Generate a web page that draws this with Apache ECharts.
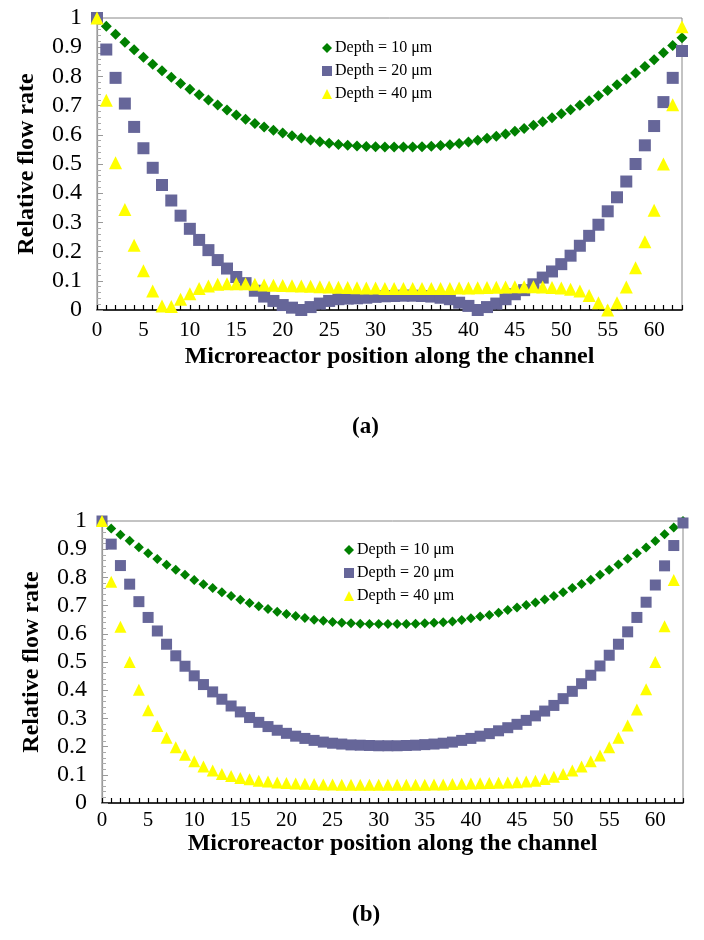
<!DOCTYPE html>
<html>
<head>
<meta charset="utf-8">
<script src="https://cdn.jsdelivr.net/npm/echarts@6/dist/echarts.min.js"></script>
<style>
html,body{margin:0;padding:0;background:#fff;}
#c{width:704px;height:940px;}
</style>
</head>
<body>
<div id="c"></div>
<script>
// Microreactor positions along the channel
var positions = [0,1,2,3,4,5,6,7,8,9,10,11,12,13,14,15,16,17,18,19,20,21,22,23,24,25,26,27,28,29,30,31,32,33,34,35,36,37,38,39,40,41,42,43,44,45,46,47,48,49,50,51,52,53,54,55,56,57,58,59,60,61,62,63];

// Chart (a)
var depth10A = [1.000,0.972,0.944,0.917,0.891,0.866,0.842,0.819,0.797,0.776,
  0.756,0.737,0.719,0.702,0.685,0.668,0.653,0.639,0.627,0.616,
  0.606,0.597,0.589,0.582,0.576,0.571,0.567,0.564,0.562,0.560,
  0.559,0.558,0.558,0.558,0.558,0.559,0.561,0.563,0.566,0.570,
  0.575,0.581,0.588,0.595,0.603,0.612,0.622,0.633,0.645,0.658,
  0.672,0.686,0.701,0.717,0.734,0.752,0.771,0.791,0.812,0.834,
  0.857,0.881,0.906,0.932];
var depth20A = [1.000,0.892,0.795,0.707,0.627,0.554,0.487,0.428,0.375,0.323,
  0.278,0.240,0.205,0.171,0.142,0.113,0.092,0.066,0.046,0.031,
  0.017,0.008,0.000,0.010,0.022,0.031,0.037,0.039,0.040,0.042,
  0.045,0.047,0.048,0.049,0.049,0.048,0.046,0.042,0.037,0.025,
  0.014,0.000,0.010,0.022,0.037,0.054,0.068,0.088,0.111,0.132,
  0.157,0.186,0.220,0.254,0.292,0.338,0.386,0.440,0.500,0.564,
  0.630,0.712,0.795,0.887];
var depth40A = [1.000,0.718,0.504,0.344,0.222,0.134,0.065,0.014,0.012,0.037,
  0.056,0.074,0.082,0.088,0.090,0.090,0.090,0.088,0.086,0.085,
  0.084,0.083,0.082,0.081,0.080,0.079,0.078,0.077,0.076,0.075,
  0.075,0.074,0.074,0.074,0.074,0.074,0.074,0.074,0.074,0.075,
  0.075,0.076,0.077,0.078,0.079,0.080,0.080,0.080,0.079,0.077,
  0.075,0.071,0.065,0.050,0.025,0.000,0.025,0.079,0.145,0.234,
  0.342,0.500,0.703,0.970];

// Chart (b)
var depth10B = [1.000,0.973,0.951,0.930,0.907,0.886,0.865,0.845,0.827,0.809,
  0.791,0.776,0.762,0.747,0.734,0.721,0.709,0.698,0.688,0.678,
  0.670,0.663,0.656,0.650,0.646,0.642,0.639,0.637,0.636,0.635,
  0.635,0.635,0.635,0.635,0.636,0.637,0.639,0.641,0.644,0.649,
  0.655,0.661,0.667,0.675,0.684,0.693,0.702,0.711,0.722,0.734,
  0.747,0.762,0.777,0.792,0.809,0.827,0.846,0.866,0.886,0.906,
  0.929,0.953,0.977,1.000];
var depth20B = [1.000,0.918,0.842,0.776,0.714,0.658,0.610,0.563,0.522,0.485,
  0.451,0.420,0.394,0.368,0.344,0.323,0.303,0.286,0.271,0.258,
  0.247,0.237,0.229,0.222,0.216,0.212,0.209,0.206,0.205,0.204,
  0.203,0.203,0.203,0.204,0.205,0.207,0.209,0.212,0.216,0.222,
  0.229,0.237,0.246,0.256,0.267,0.279,0.293,0.309,0.326,0.346,
  0.370,0.396,0.423,0.453,0.486,0.524,0.563,0.607,0.658,0.712,
  0.773,0.841,0.913,0.993];
var depth40B = [1.000,0.785,0.625,0.500,0.402,0.329,0.273,0.231,0.198,0.171,
  0.148,0.129,0.115,0.103,0.096,0.089,0.084,0.079,0.076,0.073,
  0.071,0.069,0.068,0.067,0.066,0.066,0.065,0.065,0.065,0.065,
  0.065,0.065,0.065,0.065,0.065,0.065,0.066,0.066,0.067,0.068,
  0.069,0.070,0.071,0.072,0.073,0.074,0.076,0.079,0.085,0.093,
  0.103,0.115,0.129,0.148,0.168,0.198,0.231,0.275,0.332,0.403,
  0.500,0.627,0.791,null];

var seriesNames = ['Depth = 10 \u03bcm', 'Depth = 20 \u03bcm', 'Depth = 40 \u03bcm'];
var xTickLabels = ['0','5','10','15','20','25','30','35','40','45','50','55','60'];
var yTickLabels = ['0','0.1','0.2','0.3','0.4','0.5','0.6','0.7','0.8','0.9','1'];
var panelLabels = ['(a)', '(b)'];
var xTitle = 'Microreactor position along the channel';
var yTitle = 'Relative flow rate';

function pairs(vals){
  return positions.map(function(p, i){ return vals[i] == null ? [p, '-'] : [p, vals[i]]; });
}

var FONT = '"Liberation Serif", "Times New Roman", serif';

function xAxis(gi, labelMargin, titleGap){
  return {
    gridIndex: gi, type: 'value', min: 0, max: 63, interval: 1,
    axisLine: {show: true, onZero: false, lineStyle: {color: '#000', width: 1.5}},
    axisTick: {show: true, inside: true, length: 5, lineStyle: {color: '#000', width: 1.2}},
    splitLine: {show: false},
    axisLabel: {
      color: '#000', fontFamily: FONT, fontSize: 21, margin: labelMargin,
      formatter: function(v){ var s = String(v); return xTickLabels.indexOf(s) >= 0 ? s : ''; }
    },
    name: xTitle, nameLocation: 'middle', nameGap: titleGap,
    nameTextStyle: {color: '#000', fontFamily: FONT, fontSize: 24, fontWeight: 'bold'}
  };
}
function yAxis(gi){
  return {
    gridIndex: gi, type: 'value', min: 0, max: 1, interval: 0.1,
    axisLine: {show: true, onZero: false, lineStyle: {color: '#999', width: 1.2}},
    axisTick: {show: true, inside: true, length: 6, lineStyle: {color: '#999'}},
    minorTick: {show: true, splitNumber: 5, length: 4, lineStyle: {color: '#aaa'}},
    splitLine: {show: false},
    axisLabel: {
      color: '#000', fontFamily: FONT, fontSize: 24, margin: 15,
      formatter: function(v){ var s = String(Math.round(v * 10) / 10); return yTickLabels.indexOf(s) >= 0 ? s : ''; }
    },
    name: yTitle, nameLocation: 'middle', nameGap: 58, nameRotate: 90,
    nameTextStyle: {color: '#000', fontFamily: FONT, fontSize: 24, fontWeight: 'bold'}
  };
}

var colors = ['#008000', '#666699', '#ffff00'];
var symbols = ['diamond', 'rect', 'triangle'];
var sizesA = [11, 12, 13];
var sizesB = [10, 11, 12];

function mkSeries(gi, vals, k, sizes){
  return {
    type: 'scatter', name: seriesNames[k], xAxisIndex: gi, yAxisIndex: gi,
    data: pairs(vals), symbol: symbols[k], symbolSize: sizes[k],
    itemStyle: {color: colors[k], opacity: 1}, z: 2 + k,
    emphasis: {disabled: true}, animation: false
  };
}

function legend(left, top){
  return {
    data: seriesNames, orient: 'vertical', left: left, top: top,
    itemWidth: 10, itemHeight: 10, itemGap: 7, selectedMode: false,
    textStyle: {color: '#000', fontFamily: FONT, fontSize: 16, lineHeight: 16, padding: [0,0,0,-2]}
  };
}

var chart = echarts.init(document.getElementById('c'), null, {renderer: 'canvas'});
chart.setOption({
  backgroundColor: '#fff',
  animation: false,
  grid: [
    {left: 97, top: 18, width: 585, height: 292, show: true, borderColor: '#888', borderWidth: 1, backgroundColor: 'transparent'},
    {left: 102, top: 521, width: 581, height: 282, show: true, borderColor: '#888', borderWidth: 1, backgroundColor: 'transparent'}
  ],
  xAxis: [xAxis(0, 10, 35), xAxis(1, 7, 29)],
  yAxis: [yAxis(0), yAxis(1)],
  legend: [legend(317, 35), legend(339, 537)],
  series: [
    mkSeries(0, depth10A, 0, sizesA), mkSeries(0, depth20A, 1, sizesA), mkSeries(0, depth40A, 2, sizesA),
    mkSeries(1, depth10B, 0, sizesB), mkSeries(1, depth20B, 1, sizesB), mkSeries(1, depth40B, 2, sizesB)
  ],
  graphic: [
    {type: 'text', left: 367 - 15, top: 416, style: {text: panelLabels[0], fill: '#000', font: 'bold 23px ' + FONT}},
    {type: 'text', left: 367 - 15, top: 904, style: {text: panelLabels[1], fill: '#000', font: 'bold 23px ' + FONT}}
  ]
});
</script>
</body>
</html>
